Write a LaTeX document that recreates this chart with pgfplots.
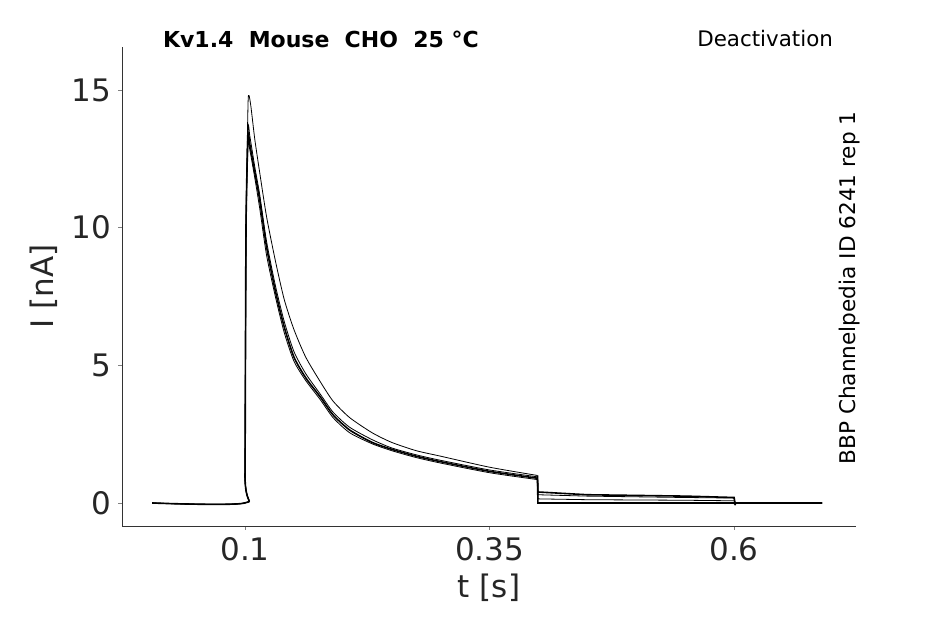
\documentclass[border=0pt]{standalone}
\usepackage{pgfplots}
\pgfplotsset{compat=1.18}
\usepackage{fontspec}
\setmainfont{DejaVu Sans}
\begin{document}
\begin{tikzpicture}[x=1pt,y=1pt]
\fill[white] (0,0) rectangle (472.5,312);
\begin{axis}[at={(61pt,49pt)},anchor=south west,scale only axis,width=367pt,height=239.5pt,
 xmin=-0.0258,xmax=0.7247,ymin=-0.835,ymax=16.56,
 axis x line*=bottom,axis y line*=left,axis line style={-,black!80},
 xtick={0.1,0.35,0.6},xticklabels={0.1,0.35,0.6},ytick={0,5,10,15},
 tick align=outside,major tick length=2pt,
 ticklabel style={font=\fontsize{15.5}{17}\selectfont,text=black!85},
 /pgf/number format/assume math mode=true,
 xlabel={t [s]},ylabel={I [nA]},
 label style={font=\fontsize{15.5}{17}\selectfont,text=black!85},
 cycle list={{black,line width=0.8pt,no marks}},
 clip=false]
\addplot+[smooth,tension=0.4] coordinates {(0.005,0) (0.0995,0) (0.1,1) (0.101,10) (0.103,14.4) (0.104,14.8) (0.106,14.4) (0.110,13.2) (0.115,12) (0.122,10.4) (0.131,8.8) (0.14,7.4) (0.15,6.3) (0.162,5.3) (0.177,4.4) (0.19,3.7) (0.207,3.1) (0.23,2.55) (0.25,2.2) (0.275,1.9) (0.3,1.7) (0.35,1.3) (0.399,1.0)};
\addplot coordinates {(0.399,1.0) (0.3995,0.4) (0.45,0.3) (0.55,0.25) (0.6,0.2) (0.601,0) (0.69,0)};
\addplot+[smooth,tension=0.4] coordinates {(0.005,0) (0.0995,0) (0.1,1) (0.101,10) (0.103,13.6) (0.105,13.3) (0.110,12.2) (0.115,11.2) (0.122,9.5) (0.131,7.9) (0.14,6.6) (0.15,5.5) (0.162,4.7) (0.177,3.95) (0.19,3.3) (0.207,2.75) (0.23,2.3) (0.25,2.0) (0.275,1.75) (0.3,1.55) (0.35,1.2) (0.399,0.95)};
\addplot coordinates {(0.399,0.95) (0.3995,0.3) (0.45,0.25) (0.55,0.2) (0.6,0.18) (0.601,0) (0.69,0)};
\addplot+[smooth,tension=0.4] coordinates {(0.005,0) (0.0995,0) (0.1,1) (0.101,10) (0.103,13.3) (0.105,13.0) (0.110,12.0) (0.115,11) (0.122,9.3) (0.131,7.7) (0.14,6.4) (0.15,5.3) (0.162,4.55) (0.177,3.85) (0.19,3.2) (0.207,2.65) (0.23,2.2) (0.25,1.95) (0.275,1.7) (0.3,1.5) (0.35,1.15) (0.399,0.9)};
\addplot coordinates {(0.399,0.9) (0.3995,0.15) (0.45,0.12) (0.55,0.1) (0.6,0.08) (0.601,0) (0.69,0)};
\addplot+[smooth,tension=0.4] coordinates {(0.005,0) (0.0995,0) (0.1,1) (0.101,9.5) (0.103,13.0) (0.105,12.8) (0.110,11.8) (0.115,10.7) (0.122,9.0) (0.131,7.5) (0.14,6.2) (0.15,5.15) (0.162,4.45) (0.177,3.75) (0.19,3.1) (0.207,2.55) (0.23,2.15) (0.25,1.9) (0.275,1.65) (0.3,1.45) (0.35,1.1) (0.399,0.85)};
\addplot coordinates {(0.399,0.85) (0.3995,0.0) (0.45,0.0) (0.6,0.0) (0.601,-0.05) (0.602,0) (0.69,0)};
\end{axis}
\node[anchor=west,font=\bfseries\fontsize{11}{13}\selectfont] at (78,292.5) {Kv1.4\ \ Mouse\ \ CHO\ \ 25 °C};
\node[anchor=east,font=\fontsize{10.7}{12}\selectfont] at (420,292.5) {Deactivation};
\node[rotate=90,anchor=center,font=\fontsize{10.8}{12}\selectfont] at (425,168) {BBP Channelpedia ID 6241 rep 1};
\end{tikzpicture}
\end{document}
